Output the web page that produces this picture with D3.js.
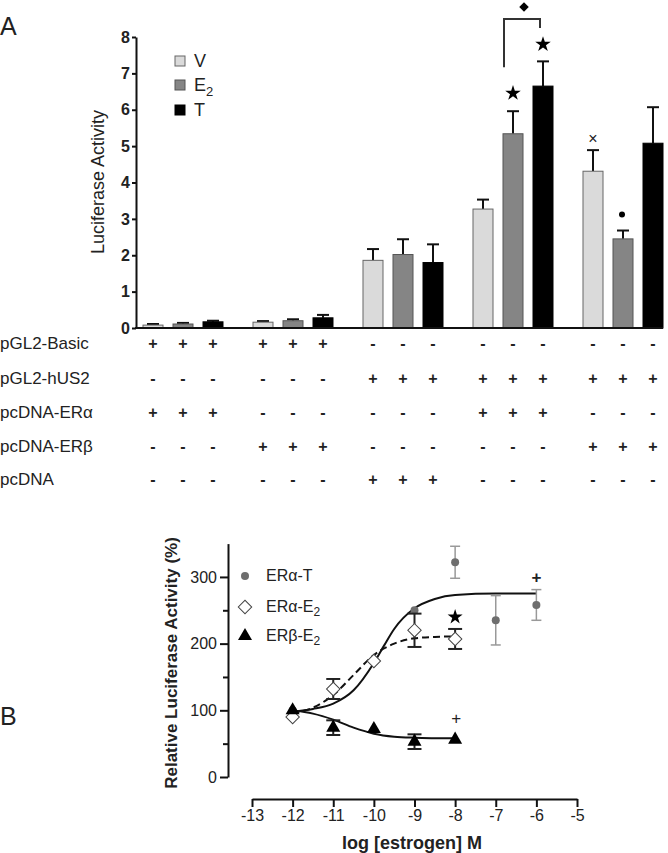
<!DOCTYPE html>
<html><head><meta charset="utf-8">
<script src="https://cdn.jsdelivr.net/npm/d3@7"></script>
<style>
body{margin:0;background:#fff;}
text{font-family:"Liberation Sans",Arial,sans-serif;fill:#222;}
</style></head>
<body><svg id="c" width="668" height="853"></svg>
<script>
// ---------- Panel A data ----------
const groups = ["g1","g2","g3","g4","g5"];
const treatments = ["V","E2","T"];
const meanV  = [0.08, 0.16, 1.86, 3.27, 4.31];
const meanE2 = [0.11, 0.20, 2.02, 5.34, 2.45];
const meanT  = [0.17, 0.28, 1.80, 6.65, 5.08];
const errV   = [0.03, 0.03, 0.31, 0.26, 0.58];
const errE2  = [0.03, 0.04, 0.42, 0.62, 0.23];
const errT   = [0.03, 0.08, 0.50, 0.68, 0.99];
const yTicksA = [0,1,2,3,4,5,6,7,8];
const rowLabels = ["pGL2-Basic","pGL2-hUS2","pcDNA-ERα","pcDNA-ERβ","pcDNA"];
const rowSigns = [
  ["+","+","-","-","-"],
  ["-","-","+","+","+"],
  ["+","-","-","+","-"],
  ["-","+","-","-","+"],
  ["-","-","+","-","-"]
];
// ---------- Panel B data ----------
const xTicksB = [-13,-12,-11,-10,-9,-8,-7,-6,-5];
const yTicksB = [0,100,200,300];
const yMinorB = [50,150,250];
const aT_x   = [-12,-10,-9,-8,-7,-6];
const aT_y   = [100,176,250,322,235,258];
const aT_err = [0,0,0,24,37,23];
const aE_x   = [-12,-11,-10,-9,-8];
const aE_y   = [90,132,174,220,207];
const aE_err = [0,15,0,25,15];
const bE_x   = [-12,-11,-10,-9,-8];
const bE_y   = [100,74,72,53,56];
const bE_err = [0,11,0,11,0];
// fitted curves
const fitAT_x = [-12,-11.5,-11,-10.5,-10,-9.75,-9.5,-9,-8.5,-8,-7,-6];
const fitAT_y = [98,102,110,130,171,197,222,253,267,273,275,275];
const fitAE_x = [-12,-11.5,-11,-10.5,-10,-9.5,-9,-8.5,-8];
const fitAE_y = [96,104,123,153,183,200,208,210,211];
const fitBE_x = [-12,-11.5,-11,-10.5,-10,-9.5,-9,-8];
const fitBE_y = [100,95,86,74,65,60.5,59,58];

const svg = d3.select("#c");

// ================= PANEL A =================
const yA = d3.scaleLinear().domain([0,8]).range([328,37]);
const x0 = d3.scaleBand().domain(groups).range([136,670]).paddingInner(30/110).paddingOuter(0.0636);
const x1 = d3.scaleBand().domain(treatments).range([0,x0.bandwidth()]).paddingInner(1/3).paddingOuter(0);
const fills = {V:"#dadada",E2:"#858585",T:"#000"};
const strokes = {V:"#666",E2:"#555",T:"#000"};
const means = {V:meanV,E2:meanE2,T:meanT};
const errs = {V:errV,E2:errE2,T:errT};

svg.append("text").attr("x",0).attr("y",35).style("font-size","25px").text("A");

const gA = svg.append("g");
const barData = [];
groups.forEach((g,i)=>treatments.forEach(t=>barData.push({g,t,v:means[t][i],e:errs[t][i]})));

gA.selectAll(".eb").data(barData).join("g").each(function(d){
  const cx = x0(d.g)+x1(d.t)+x1.bandwidth()/2;
  const s = d3.select(this);
  s.append("line").attr("x1",cx).attr("x2",cx).attr("y1",yA(d.v)).attr("y2",yA(d.v+d.e)).attr("stroke","#111").attr("stroke-width",2);
  s.append("line").attr("x1",cx-6).attr("x2",cx+6).attr("y1",yA(d.v+d.e)).attr("y2",yA(d.v+d.e)).attr("stroke","#111").attr("stroke-width",2);
});
gA.selectAll(".bar").data(barData).join("rect")
  .attr("x",d=>x0(d.g)+x1(d.t)).attr("width",x1.bandwidth())
  .attr("y",d=>yA(d.v)).attr("height",d=>yA(0)-yA(d.v))
  .attr("fill",d=>fills[d.t]).attr("stroke",d=>strokes[d.t]).attr("stroke-width",1);

const axA = svg.append("g").attr("transform","translate(136,0)")
  .call(d3.axisLeft(yA).tickValues(yTicksA).tickSize(4).tickSizeOuter(0).tickPadding(2).tickFormat(d3.format("d")));
axA.select(".domain").attr("stroke","#111").attr("stroke-width",2);
axA.selectAll(".tick line").attr("stroke","#111").attr("stroke-width",2);
axA.selectAll(".tick text").style("font-size","16px").style("font-weight","bold").attr("fill","#222").style("font-family","Liberation Sans, Arial, sans-serif");
svg.append("line").attr("x1",135).attr("x2",663).attr("y1",yA(0)).attr("y2",yA(0)).attr("stroke","#111").attr("stroke-width",2);

svg.append("text").attr("transform","translate(104,182) rotate(-90)").attr("text-anchor","middle")
  .style("font-size","18px").text("Luciferase Activity");

const legA = [{t:"V",y:56},{t:"E2",y:80},{t:"T",y:105}];
legA.forEach(l=>{
  svg.append("rect").attr("x",175).attr("y",l.y).attr("width",10).attr("height",10)
    .attr("fill",fills[l.t]).attr("stroke",strokes[l.t]).attr("stroke-width",1);
  const tx = svg.append("text").attr("x",194).attr("y",l.y+11).style("font-size","18px");
  if(l.t==="E2"){ tx.text("E"); tx.append("tspan").attr("dy",5).style("font-size","13px").text("2"); }
  else tx.text(l.t);
});

const cxOf = (g,t)=>x0(g)+x1(t)+x1.bandwidth()/2;
const star = d3.symbol().type(d3.symbolStar).size(75);
svg.append("path").attr("d",star()).attr("transform",`translate(${cxOf("g4","E2")},${yA(meanE2[3]+errE2[3])-18})`).attr("fill","#000");
svg.append("path").attr("d",star()).attr("transform",`translate(${cxOf("g4","T")},${yA(meanT[3]+errT[3])-17})`).attr("fill","#000");
svg.append("path").attr("d",`M${cxOf("g4","E2")-9},${yA(5.34+0.62)-44} V19 H${cxOf("g4","T")-3} V28`).attr("fill","none").attr("stroke","#333").attr("stroke-width",2);
svg.append("path").attr("d",d3.symbol().type(d3.symbolSquare).size(45)()).attr("transform",`translate(${(cxOf("g4","E2")+cxOf("g4","T"))/2-4},7) rotate(45)`).attr("fill","#000");
svg.append("text").attr("x",cxOf("g5","V")).attr("y",yA(meanV[4]+errV[4])-6).attr("text-anchor","middle").style("font-size","16px").text("×");
svg.append("circle").attr("cx",cxOf("g5","E2")-1).attr("cy",yA(meanE2[4]+errE2[4])-16).attr("r",3).attr("fill","#000");

const rowY = [349,384,418,452,485];
rowLabels.forEach((lab,r)=>{
  svg.append("text").attr("x",0).attr("y",rowY[r]).style("font-size","17px").text(lab);
  groups.forEach((g,i)=>treatments.forEach(t=>{
    svg.append("text").attr("x",cxOf(g,t)).attr("y",rowY[r]).attr("text-anchor","middle")
      .style("font-size","16px").style("font-weight","bold").text(rowSigns[r][i]==="+"?"+":"-");
  }));
});

// ================= PANEL B =================
const xB = d3.scaleLinear().domain([-13,-5]).range([252,577]);
const yB = d3.scaleLinear().domain([0,350]).range([777,543.6]);

svg.append("text").attr("x",0).attr("y",725).style("font-size","25px").text("B");

const axBy = svg.append("g").attr("transform","translate(228,0)")
  .call(d3.axisLeft(yB).tickValues(yTicksB).tickSize(8).tickSizeOuter(0).tickPadding(3));
svg.append("g").attr("transform","translate(228,0)")
  .call(d3.axisLeft(yB).tickValues(yMinorB).tickSize(5).tickSizeOuter(0).tickFormat(""))
  .call(g=>{g.select(".domain").remove(); g.selectAll("line").attr("stroke","#111").attr("stroke-width",2);});
axBy.select(".domain").attr("stroke","#111").attr("stroke-width",2);
axBy.selectAll(".tick line").attr("stroke","#111").attr("stroke-width",2);
axBy.selectAll(".tick text").style("font-size","16px").style("font-family","Liberation Sans, Arial, sans-serif").attr("fill","#222");

const axBx = svg.append("g").attr("transform","translate(0,799)")
  .call(d3.axisBottom(xB).tickValues(xTicksB).tickSize(8).tickSizeOuter(0).tickPadding(3).tickFormat(d=>String(d)));
axBx.select(".domain").attr("stroke","#111").attr("stroke-width",2);
axBx.selectAll(".tick line").attr("stroke","#111").attr("stroke-width",2);
axBx.selectAll(".tick text").style("font-size","16px").style("font-family","Liberation Sans, Arial, sans-serif").attr("fill","#222");

svg.append("text").attr("x",412).attr("y",849).attr("text-anchor","middle").style("font-size","18px").style("font-weight","bold").text("log [estrogen] M");
svg.append("text").attr("transform","translate(177,663) rotate(-90)").attr("text-anchor","middle")
  .style("font-size","17px").style("font-weight","bold").text("Relative Luciferase Activity (%)");

const line = d3.line().x(d=>xB(d[0])).y(d=>yB(d[1])).curve(d3.curveMonotoneX);
svg.append("path").attr("d",line(d3.zip(fitAT_x,fitAT_y))).attr("fill","none").attr("stroke","#111").attr("stroke-width",2);
svg.append("path").attr("d",line(d3.zip(fitAE_x,fitAE_y))).attr("fill","none").attr("stroke","#111").attr("stroke-width",2).attr("stroke-dasharray","7,4");
svg.append("path").attr("d",line(d3.zip(fitBE_x,fitBE_y))).attr("fill","none").attr("stroke","#111").attr("stroke-width",2);

function errBar(xs,ys,es,color,w,cap){
  xs.forEach((x,i)=>{
    if(!es[i]) return;
    const cx=xB(x), t=yB(ys[i]+es[i]), b=yB(ys[i]-es[i]);
    svg.append("line").attr("x1",cx).attr("x2",cx).attr("y1",t).attr("y2",b).attr("stroke",color).attr("stroke-width",w);
    [t,b].forEach(yy=>svg.append("line").attr("x1",cx-cap).attr("x2",cx+cap).attr("y1",yy).attr("y2",yy).attr("stroke",color).attr("stroke-width",w));
  });
}
errBar(aT_x,aT_y,aT_err,"#999",1.5,5);
aT_x.forEach((x,i)=>svg.append("circle").attr("cx",xB(x)).attr("cy",yB(aT_y[i])).attr("r",4).attr("fill","#6e6e6e"));
errBar(aE_x,aE_y,aE_err,"#222",2,7);
const diamond = d3.symbol().type(d3.symbolSquare).size(90);
aE_x.forEach((x,i)=>svg.append("path").attr("d",diamond()).attr("transform",`translate(${xB(x)},${yB(aE_y[i])}) rotate(45)`).attr("fill","#fff").attr("stroke","#444").attr("stroke-width",1));
errBar(bE_x,bE_y,bE_err,"#222",2,7);
const tri = d3.symbol().type(d3.symbolTriangle).size(85);
bE_x.forEach((x,i)=>svg.append("path").attr("d",tri()).attr("transform",`translate(${xB(x)},${yB(bE_y[i])})`).attr("fill","#000"));

svg.append("text").attr("x",xB(-6)).attr("y",583).attr("text-anchor","middle").style("font-size","17px").style("font-weight","bold").text("+");
svg.append("path").attr("d",d3.symbol().type(d3.symbolStar).size(70)()).attr("transform",`translate(${xB(-8)},617)`).attr("fill","#000");
svg.append("text").attr("x",xB(-8)+1).attr("y",724).attr("text-anchor","middle").style("font-size","17px").text("+");

const legB = [{y:576,k:"c",a:"ERα-T",s:""},{y:607,k:"d",a:"ERα-E",s:"2"},{y:636,k:"t",a:"ERβ-E",s:"2"}];
legB.forEach(l=>{
  if(l.k==="c") svg.append("circle").attr("cx",245).attr("cy",l.y).attr("r",4).attr("fill","#6e6e6e");
  if(l.k==="d") svg.append("path").attr("d",diamond()).attr("transform",`translate(245,${l.y}) rotate(45)`).attr("fill","#fff").attr("stroke","#444");
  if(l.k==="t") svg.append("path").attr("d",tri()).attr("transform",`translate(245,${l.y})`).attr("fill","#000");
  const tx = svg.append("text").attr("x",266).attr("y",l.y+5).style("font-size","16px").text(l.a);
  if(l.s) tx.append("tspan").attr("dy",4).style("font-size","12px").text(l.s);
});
</script></body></html>
